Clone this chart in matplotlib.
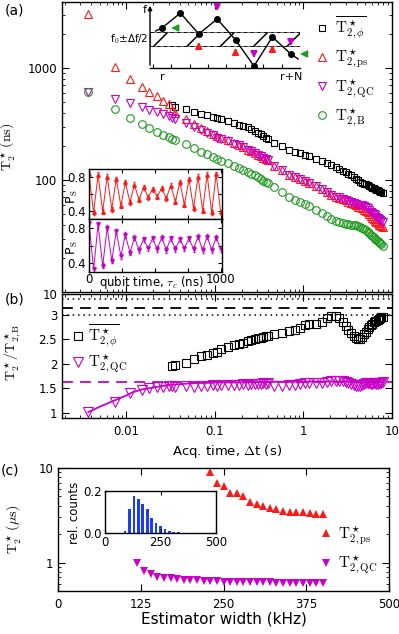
import numpy as np
import matplotlib
matplotlib.use("Agg")
import matplotlib.pyplot as plt
from matplotlib.ticker import NullLocator, NullFormatter
from matplotlib.patches import Rectangle

plt.rcParams['mathtext.fontset'] = 'cm'
plt.rcParams['font.family'] = 'DejaVu Sans'
plt.rcParams['font.size'] = 8.5
plt.rcParams['axes.linewidth'] = 1.0
plt.rcParams['xtick.direction'] = 'in'
plt.rcParams['ytick.direction'] = 'in'
plt.rcParams['xtick.top'] = True
plt.rcParams['ytick.right'] = True
plt.rcParams['xtick.major.size'] = 5
plt.rcParams['ytick.major.size'] = 5
plt.rcParams['xtick.minor.size'] = 2.5
plt.rcParams['ytick.minor.size'] = 2.5
plt.rcParams['xtick.major.pad'] = 5
plt.rcParams['hatch.linewidth'] = 1.1
plt.rcParams['hatch.color'] = 'black'

RED = '#ff1a1a'
MAG = '#c800c8'
GRN = '#1f9a1f'
BLUE = '#1a3cff'

nan = np.nan

# ---------------- panel (a) / (b) data ----------------
# acquisition time (s)
acq_time = [0.0037, 0.0074, 0.011, 0.015, 0.018, 0.022, 0.026, 0.030, 0.033,
            0.035, 0.047, 0.058, 0.070, 0.082, 0.094, 0.105, 0.117, 0.14, 0.164,
            0.187, 0.21, 0.234, 0.257, 0.28, 0.304, 0.327, 0.35, 0.374, 0.397,
            0.46, 0.575, 0.69, 0.805, 0.92, 1.035, 1.15, 1.38, 1.61, 1.84, 2.07,
            2.3, 2.53, 2.76, 2.99, 3.22, 3.45, 3.68, 3.91, 4.14, 4.37, 4.6, 4.83,
            5.06, 5.29, 5.52, 5.75, 5.98, 6.21, 6.44, 6.67, 6.9, 7.13, 7.36, 7.59, 7.82]

# T2* (ns)
t2_phi = [nan, nan, nan, nan, nan, nan, nan, nan, 468,
          452, 430, 405, 390, 378, 366, 358, 350, 336, 322, 311, 303, 296, 286,
          276, 266, 257, 248, 240, 232,
          215, 200, 186, 180, 174, 169, 163, 154, 147, 141, 135, 130, 125, 121,
          117, 113, 110, 106, 103, 100, 97, 95, 93, 91.5, 90, 88.5, 87, 85.5,
          84.5, 83, 82, 81, 80, 79, 78, 77]
t2_ps = [3030, 1030, 800, 680, 610, 560, 510, 475, 425,
         400, 350, 316, 292, 275, 260, 248, 240, 228, 213, 206, 198, 187, 182,
         176, 169, 163, 159, 154, 151,
         134, 123, 112, 106, 102, 99, 95, 88, 83, 79, 74, 71, 69.5, 67.5, 66,
         64, 62.5, 61, 59.5, 58, 57, 56, 54.5, 53, 51.5, 49.5, 47.5, 46, 44.5,
         43, 42, 41, 40, 39.3, 38.8, 38.3]
t2_qc = [610, 535, 485, 448, 420, 403, 388, 372, 357,
         350, 326, 295, 281, 264, 251, 240, 234, 224, 210, 204, 197, 186, 181,
         176, 169, 163, 159, 154, 151,
         133, 122, 111, 106, 102, 99, 95, 88, 83, 79, 74, 71, 70, 68, 66.6,
         65, 64, 62.7, 61.5, 60.5, 60, 59.3, 58.4, 57.2, 55.9, 53.9, 52, 50.4,
         49.4, 48.3, 46.7, 45.6, 44.8, 44.1, 43.1, 42.4]
t2_b = [610, 435, 360, 315, 290, 270, 255, 243, 235,
        230, 210, 193, 180, 170, 160, 154, 149, 142, 134, 129, 124, 118, 114,
        110, 106, 102, 99, 96, 94,
        86, 78, 71, 67, 64, 61, 58.5, 54.5, 51, 48, 45, 43, 42, 41.2, 40.6,
        40.2, 40, 39.7, 39.4, 39, 38.4, 37.5, 36.5, 35.5, 34.5, 33.5, 32.5,
        31.5, 30.7, 30, 29.2, 28.5, 27.8, 27.2, 26.6, 26]

# ratios to T2,B* for panel (b)
ratio_phi = [nan, nan, nan, nan, nan, nan, nan, nan, 1.95,
             1.97, 2.02, 2.1, 2.15, 2.18, 2.22, 2.25, 2.3, 2.34, 2.38, 2.4,
             2.43, 2.46, 2.48, 2.5, 2.52, 2.52, 2.55, 2.56, 2.57,
             2.6, 2.63, 2.66, 2.68, 2.72, 2.78, 2.8, 2.81, 2.85, 2.93, 2.97,
             2.98, 2.93, 2.85, 2.76, 2.68, 2.62, 2.56, 2.52, 2.5, 2.5, 2.55,
             2.6, 2.65, 2.7, 2.74, 2.78, 2.81, 2.84, 2.86, 2.88, 2.9, 2.92,
             2.93, 2.95, 2.96]
ratio_qc = [1.02, 1.22, 1.40, 1.46, 1.50, 1.52, 1.52, 1.55, 1.55,
            1.52, 1.55, 1.53, 1.56, 1.55, 1.57, 1.56, 1.57, 1.58, 1.57, 1.58,
            1.59, 1.58, 1.59, 1.6, 1.59, 1.6, 1.61, 1.6, 1.61,
            1.55, 1.56, 1.57, 1.58, 1.6, 1.62, 1.62, 1.61, 1.62, 1.64, 1.65,
            1.66, 1.66, 1.65, 1.64, 1.62, 1.6, 1.58, 1.56, 1.55, 1.56, 1.58,
            1.6, 1.61, 1.62, 1.61, 1.6, 1.6, 1.61, 1.61, 1.6, 1.6, 1.61,
            1.62, 1.62, 1.63]
fit_time = [0.0037, 0.005, 0.0074, 0.01, 0.0116, 0.015, 0.02, 0.03, 0.05, 0.1, 0.3, 1, 8]
fit_ratio = [1.02, 1.13, 1.26, 1.36, 1.42, 1.48, 1.52, 1.57, 1.60, 1.62, 1.63, 1.64, 1.64]
qc_limit = 1.64
phi_dotted = [3.0, 7.5]
phi_dashed = 4.4

# Ramsey fringes in the inset (extrema, qubit time in ns)
ps_time = [0, 35, 69, 104, 138, 173, 207, 242, 276, 311, 345, 380, 414, 449, 483,
           518, 552, 587, 621, 656, 690, 725, 759, 794, 828, 863, 897, 932, 966, 1000]
ps_red = [0.84, 0.38, 0.83, 0.39, 0.81, 0.42, 0.78, 0.46, 0.74, 0.50, 0.71, 0.53,
          0.68, 0.56, 0.66, 0.57, 0.67, 0.55, 0.70, 0.51, 0.74, 0.47, 0.78, 0.43,
          0.81, 0.40, 0.83, 0.38, 0.84, 0.38]
ps_mag = [0.86, 0.33, 0.84, 0.37, 0.80, 0.43, 0.76, 0.48, 0.72, 0.52, 0.69, 0.55,
          0.67, 0.57, 0.68, 0.56, 0.69, 0.55, 0.68, 0.56, 0.67, 0.57, 0.68, 0.56,
          0.70, 0.55, 0.70, 0.55, 0.69, 0.56]

# schematic: frequency estimates for repetitions r ... r+N
schem_idx = [0, 1, 2, 3, 4, 5, 6, 7]
schem_f = [40, 55, 34, 49, 28, 2, 31, 14]
band_lo, band_hi = 22, 36
in_band = [2, 4, 6]
out_band = [3, 5, 7]

# ---------------- panel (c) data ----------------
width_ps = [230, 240, 250, 260, 270, 280, 290, 300, 310, 320, 330, 340, 350, 360,
            370, 380, 390, 400]
t2c_ps = [9.1, 6.95, 6.5, 5.5, 5.5, 5.1, 4.4, 4.2, 4.0, 3.8, 3.7, 3.5, 3.45,
          3.45, 3.4, 3.35, 3.3, 3.3]
width_qc = [120, 130, 140, 150, 160, 170, 180, 190, 200, 210, 220, 230, 240, 250,
            260, 270, 280, 290, 300, 310, 320, 330, 340, 350, 360, 370, 380, 390, 400]
t2c_qc = [1.0, 0.82, 0.75, 0.71, 0.69, 0.68, 0.67, 0.66, 0.655, 0.65, 0.645,
          0.64, 0.635, 0.63, 0.63, 0.625, 0.625, 0.62, 0.62, 0.62, 0.62, 0.615,
          0.615, 0.615, 0.615, 0.615, 0.615, 0.615, 0.615]
hist_width = [90, 110, 130, 150, 170, 190, 210, 230, 250, 270, 290, 310, 330]
hist_counts = [0.011, 0.112, 0.174, 0.164, 0.14, 0.112, 0.072, 0.05, 0.031,
               0.018, 0.011, 0.006, 0.003]

# ---------------- figure ----------------
W, H = 399, 634
fig = plt.figure(figsize=(W / 100, H / 100), dpi=100)


def add_px_axes(x0, y0, x1, y1):
    # axes given by pixel box (top-left origin)
    return fig.add_axes([x0 / W, 1 - y1 / H, (x1 - x0) / W, (y1 - y0) / H])


lab_a = [r'$\overline{\mathrm{T}^\star_{2,\phi}}$', r'$\mathrm{T}^\star_{2,\mathrm{ps}}$',
         r'$\mathrm{T}^\star_{2,\mathrm{QC}}$', r'$\mathrm{T}^\star_{2,\mathrm{B}}$']

# (a)
ax_a = add_px_axes(62, 2, 392, 292)
ax_a.set_xscale('log')
ax_a.set_yscale('log')
ax_a.plot(acq_time, t2_phi, 's', mfc='none', mec='k', ms=5, mew=0.8, label=lab_a[0])
ax_a.plot(acq_time, t2_ps, '^', mfc='none', mec=RED, ms=6, mew=0.8, label=lab_a[1])
ax_a.plot(acq_time, t2_qc, 'v', mfc='none', mec=MAG, ms=6, mew=0.8, label=lab_a[2])
ax_a.plot(acq_time, t2_b, 'o', mfc='none', mec=GRN, ms=5.5, mew=0.8, label=lab_a[3])
ax_a.set_xlim(0.00187, 10)
ax_a.set_ylim(10, 3900)
ax_a.set_yticks([100, 1000])
ax_a.set_yticklabels(['100', '1000'])
ax_a.yaxis.set_minor_formatter(NullFormatter())
ax_a.tick_params(labelbottom=False)
ax_a.set_ylabel(r'$\mathrm{T}_2^\star\,(\mathrm{ns})$', fontsize=10)
ax_a.yaxis.set_label_coords(-0.135, 0.5)
ax_a.legend(loc='upper left', bbox_to_anchor=(314 / W, 1 - 15 / H),
            bbox_transform=fig.transFigure, frameon=False, fontsize=11,
            handlelength=1.0, handletextpad=0.4, labelspacing=0.42,
            borderpad=0, borderaxespad=0)

# inset: Ramsey fringes
ax_p1 = add_px_axes(89, 169, 222, 219)
ax_p2 = add_px_axes(89, 219, 222, 272)
for ax, vals, col, mk in [(ax_p1, ps_red, RED, '^'), (ax_p2, ps_mag, MAG, 'v')]:
    ax.errorbar(ps_time, vals, yerr=0.03, fmt='-' + mk, color=col, ms=2.5, lw=0.7,
                elinewidth=0.5, capsize=1)
    ax.set_xlim(0, 1010)
    ax.set_ylim(0.3, 0.9)
    ax.set_yticks([0.4, 0.6, 0.8])
    ax.set_yticklabels(['0.4', '', '0.8'])
    ax.set_xticks([0, 250, 500, 750, 1000])
    ax.tick_params(length=3, pad=2)
    ax.set_ylabel(r'P$_\mathrm{S}$', fontsize=9)
    ax.yaxis.set_label_coords(-0.07, 0.45)
ax_p1.tick_params(labelbottom=False)
ax_p2.set_xticklabels(['0', '', '', '', '1000'])
ax_p2.tick_params(axis='x', pad=1)
ax_p2.text(0.47, -0.03, r'qubit time, $\tau_c$ (ns)', transform=ax_p2.transAxes,
           ha='center', va='top', fontsize=8.5)

# inset: schematic
ax_s = add_px_axes(150, 3, 300, 68)
ax_s.patch.set_alpha(0)
for s in ['top', 'right', 'left']:
    ax_s.spines[s].set_visible(False)
ax_s.set_xlim(-0.65, 7.5)
ax_s.set_ylim(0, 65)
ax_s.add_patch(Rectangle((-0.65, band_lo), 8.15, band_hi - band_lo, hatch='/',
                         facecolor='none', edgecolor='k', linewidth=0.4))
ax_s.plot([-0.65, 7.5], [band_lo, band_lo], color='k', lw=0.6, ls=(0, (4, 4)))
ax_s.plot([-0.65, 7.5], [band_hi, band_hi], color='k', lw=0.6, ls=(0, (4, 4)))
ax_s.plot([-0.35] + schem_idx + [7.4], [37] + schem_f + [9], 'k-', lw=1)
ax_s.plot(schem_idx, schem_f, 'ko', ms=4)
ax_s.annotate('', xy=(0, 1.0), xytext=(0, 0), xycoords='axes fraction',
              arrowprops=dict(arrowstyle='-|>', lw=1, color='k', mutation_scale=6))
ax_s.set_xticks(np.arange(-0.5, 7.5, 1))
ax_s.set_yticks([])
ax_s.tick_params(axis='x', length=3, top=False, labelbottom=False)
ax_s.tick_params(axis='y', left=False, right=False)
ax_s.text(-0.85, 58, 'f', ha='right', va='center', fontsize=8)
ax_s.text(-0.75, 29, r'f$_0$±Δf/2', ha='right', va='center', fontsize=7.5)
ax_s.text(0, -4, 'r', ha='center', va='top', fontsize=8)
ax_s.text(7, -4, 'r+N', ha='center', va='top', fontsize=8)
arrow_kw = dict(arrowstyle='-|>,head_length=0.5,head_width=0.25', lw=1.2,
                mutation_scale=8)
for i in [0, 7]:
    ax_s.annotate('', xy=(schem_idx[i] + 0.35, schem_f[i]),
                  xytext=(schem_idx[i] + 1.0, schem_f[i]),
                  arrowprops=dict(color=GRN, **arrow_kw), annotation_clip=False)
for i in in_band:
    ax_s.annotate('', xy=(schem_idx[i], schem_f[i] - 5), xytext=(schem_idx[i], schem_f[i] - 16),
                  arrowprops=dict(color=RED, **arrow_kw), annotation_clip=False)
for i in out_band:
    ax_s.annotate('', xy=(schem_idx[i], schem_f[i] + 5), xytext=(schem_idx[i], schem_f[i] + 16),
                  arrowprops=dict(color=MAG, **arrow_kw), annotation_clip=False)


# (b) broken linear / log axis above 3
def fwd(y):
    y = np.asarray(y, dtype=float)
    return np.where(y <= 3, y, 3 + 0.8 * np.log10(np.maximum(y, 3) / 3))


def inv(v):
    v = np.asarray(v, dtype=float)
    return np.where(v <= 3, v, 3 * 10 ** ((np.minimum(v, 10) - 3) / 0.8))


ax_b = add_px_axes(62, 294, 392, 418)
ax_b.set_xscale('log')
ax_b.set_yscale('function', functions=(fwd, inv))
ax_b.set_xlim(0.00187, 10)
ax_b.set_ylim(0.9, 10)
for yv in phi_dotted:
    ax_b.axhline(yv, color='k', ls=(0, (1, 2.5)), lw=1.1)
ax_b.axhline(phi_dashed, color='k', ls=(0, (6, 4)), lw=1.3)
ax_b.axhline(qc_limit, color=MAG, ls=(0, (6, 4)), lw=1.3)
ax_b.plot(fit_time, fit_ratio, '-', color=MAG, lw=1.3)
ax_b.plot(acq_time, ratio_phi, 's', mfc='none', mec='k', ms=5.5, mew=0.8, label=lab_a[0])
ax_b.plot(acq_time, ratio_qc, 'v', mfc='none', mec=MAG, ms=6.5, mew=0.8, label=lab_a[2])
ax_b.set_yticks([1, 1.5, 2, 2.5, 3, 10])
ax_b.set_yticklabels(['1', '1.5', '2', '2.5', '3', '10'])
ax_b.yaxis.set_minor_locator(NullLocator())
ax_b.set_xticks([0.01, 0.1, 1, 10])
ax_b.set_xticklabels(['0.01', '0.1', '1', '10'])
ax_b.xaxis.set_minor_formatter(NullFormatter())
ax_b.set_ylabel(r'$\mathrm{T}_2^\star/\mathrm{T}_{2,\mathrm{B}}^\star$', fontsize=10)
ax_b.yaxis.set_label_coords(-0.118, 0.53)
ax_b.set_xlabel(r'Acq. time, $\Delta$t (s)', fontsize=9.5)
ax_b.xaxis.set_label_coords(0.5, -0.2)
ax_b.legend(loc='upper left', bbox_to_anchor=(70 / W, 1 - 323 / H),
            bbox_transform=fig.transFigure, frameon=False, fontsize=11,
            handlelength=1.0, handletextpad=0.2, labelspacing=0.22,
            borderpad=0, borderaxespad=0)

# (c)
ax_c = add_px_axes(58, 468, 389, 591)
ax_c.set_yscale('log')
ax_c.plot(width_ps, t2c_ps, '^', color=RED, ms=6, mew=0, label=r'$\mathrm{T}^\star_{2,\mathrm{ps}}$')
ax_c.plot(width_qc, t2c_qc, 'v', color=MAG, ms=6, mew=0, label=r'$\mathrm{T}^\star_{2,\mathrm{QC}}$')
ax_c.set_xlim(0, 500)
ax_c.set_ylim(0.5, 10)
ax_c.set_xticks([0, 125, 250, 375, 500])
ax_c.set_yticks([1, 10])
ax_c.set_yticklabels(['1', '10'])
ax_c.yaxis.set_minor_formatter(NullFormatter())
ax_c.tick_params(labelsize=8.5)
ax_c.set_xlabel('Estimator width (kHz)', fontsize=11)
ax_c.xaxis.set_label_coords(0.5, -0.17)
ax_c.set_ylabel(r'$\mathrm{T}_2^\star\,(\mu\mathrm{s})$', fontsize=10)
ax_c.yaxis.set_label_coords(-0.105, 0.5)
ax_c.legend(loc='upper left', bbox_to_anchor=(320 / W, 1 - 524 / H),
            bbox_transform=fig.transFigure, frameon=False, fontsize=11,
            handlelength=0.8, handletextpad=0.4, labelspacing=0.45,
            borderpad=0, borderaxespad=0)

# (c) inset histogram
ax_h = add_px_axes(105, 491, 216, 533)
ax_h.bar(hist_width, hist_counts, width=12, color=BLUE)
ax_h.set_xlim(0, 500)
ax_h.set_ylim(0, 0.2)
ax_h.set_xticks([0, 250, 500])
ax_h.set_yticks([0, 0.2])
ax_h.set_yticklabels(['0.0', '0.2'])
ax_h.tick_params(length=3, pad=2, labelsize=8.5)
ax_h.set_ylabel('rel. counts', fontsize=8.5)
ax_h.yaxis.set_label_coords(-0.215, 0.48)

fig.text(5 / W, 1 - 11 / H, '(a)', fontsize=10, va='center')
fig.text(5 / W, 1 - 300 / H, '(b)', fontsize=10, va='center')
fig.text(1 / W, 1 - 470 / H, '(c)', fontsize=10, va='center')

fig.savefig('out.png', dpi=100)
